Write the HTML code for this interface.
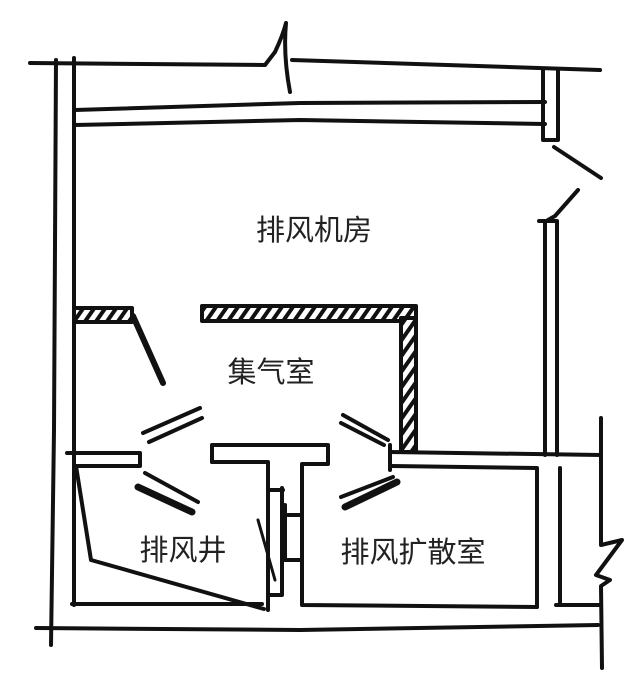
<!DOCTYPE html>
<html><head><meta charset="utf-8"><style>
html,body{margin:0;padding:0;background:#fff;}
svg{display:block;}
text{font-family:"Liberation Sans","Noto Sans CJK SC",sans-serif;fill:#222;}
</style></head><body>
<svg width="640" height="686" viewBox="0 0 640 686" xmlns="http://www.w3.org/2000/svg">
<defs>
<pattern id="h" width="9" height="9" patternUnits="userSpaceOnUse" patternTransform="rotate(35)">
<rect width="9" height="9" fill="#fff"/><rect width="4" height="9" fill="#111"/>
</pattern>
</defs>
<g fill="none" stroke="#111" stroke-width="4" stroke-linecap="round" stroke-linejoin="round">
<!-- top wall -->
<path d="M30 63 L265 65 L275 52 Q283 35 286 23 Q283 55 290 92"/>
<path d="M292 60 L600 70"/>
<!-- left walls -->
<path d="M56 60 L54 430 L51 645"/>
<path d="M74 58 L74 605"/>
<!-- inner horizontals -->
<path d="M75 110 L300 103 L545 102"/>
<path d="M75 125 L300 120 L545 124"/>
<!-- right column -->
<path d="M543 70 L543 140 L558 140 L558 70"/>
<path d="M554 147 L601 178"/>
<path d="M578 190 L555 216 L548 220"/>
<path d="M539 221 L556 221"/>
<path d="M545 221 L545 455"/>
<path d="M557 221 L557 455"/>
<!-- hatched walls -->
<rect x="74" y="308" width="58" height="14" fill="url(#h)"/>
<rect x="202" y="306" width="214" height="15" fill="url(#h)"/>
<rect x="401" y="318" width="15" height="134" fill="url(#h)"/>
<path d="M133 316 L163 383" stroke-width="6"/>
<!-- middle horizontal walls -->
<path d="M67 453 L140 453 L140 466 L75 466"/>
<path d="M390 452 L601 455"/>
<path d="M392 466 L537 468 L537 607"/>
<path d="M390 445 L390 470"/>
<!-- T shape -->
<path d="M212 462 L212 445 L328 445 L328 464 L302 464 L302 605 L537 607"/>
<path d="M212 462 L268 462 L268 610"/>
<path d="M282 488 L282 595 L270 595"/>
<path d="M283 490 L268 490"/>
<path d="M288 515 L302 515"/>
<path d="M285 505 L285 560 L302 560"/>
<!-- lower left room -->
<path d="M72 604 L262 604"/>
<path d="M76 466 L91 560 L264 609"/>
<path d="M258 520 L275 580" stroke-width="3"/>
<!-- right column lower -->
<path d="M560 468 L560 605"/>
<path d="M556 605 L601 605"/>
<path d="M601 418 L601 545 L622 540 L596 575 L610 580 L601 586 L602 668"/>
<!-- bottom line -->
<path d="M36 628 L300 630 L598 625"/>
<!-- fan blades -->
<path d="M143 433 L200 408"/>
<path d="M149 442 L202 418"/>
<path d="M138 487 L192 512" stroke-width="7"/>
<path d="M145 473 L198 502"/>
<path d="M343 415 L388 440"/>
<path d="M341 423 L384 445"/>
<path d="M341 497 L393 477"/>
<path d="M345 507 L397 482" stroke-width="7"/>
</g>
<text x="314" y="240" font-size="29" text-anchor="middle">排风机房</text>
<text x="271" y="382" font-size="29" text-anchor="middle">集气室</text>
<text x="183" y="560" font-size="29" text-anchor="middle">排风井</text>
<text x="413" y="562" font-size="29" text-anchor="middle">排风扩散室</text>
</svg>
</body></html>
